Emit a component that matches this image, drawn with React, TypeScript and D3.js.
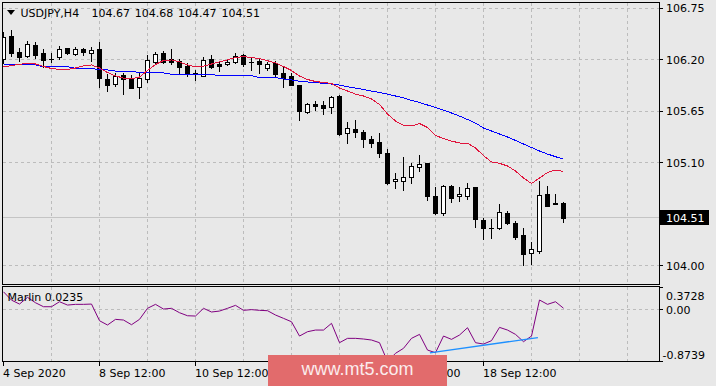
import React from "react";
import * as d3 from "d3";

// USDJPY H4 bars
const opens = [
  106.205, 106.454, 106.286, 106.241, 106.355, 106.273, 106.212, 106.226, 106.321, 106.265,
  106.31, 106.269, 106.31, 105.999, 105.944, 106.042, 106.002, 105.912, 105.991, 106.179,
  106.276, 106.205, 106.187, 106.134, 106.061, 106.032, 106.206, 106.15, 106.153, 106.179,
  106.246, 106.178, 106.187, 106.112, 106.162, 106.056, 106.027, 105.93, 105.645, 105.728,
  105.717, 105.699, 105.813, 105.423, 105.46, 105.426, 105.354, 105.322, 105.201, 104.905,
  104.908, 104.951, 105.051, 105.1, 104.745, 104.566, 104.851, 104.745, 104.748, 104.844,
  104.488, 104.406, 104.406, 104.56, 104.453, 104.328, 104.139, 104.16, 104.763, 104.667,
  104.67,
];
const highs = [
  106.497, 106.513, 106.326, 106.404, 106.387, 106.315, 106.269, 106.342, 106.331, 106.337,
  106.326, 106.337, 106.395, 106.048, 106.059, 106.064, 106.038, 106.056, 106.251, 106.288,
  106.294, 106.315, 106.212, 106.166, 106.086, 106.23, 106.246, 106.184, 106.201, 106.269,
  106.264, 106.216, 106.216, 106.179, 106.184, 106.126, 106.062, 105.931, 105.741, 105.762,
  105.757, 105.813, 105.822, 105.533, 105.557, 105.452, 105.389, 105.415, 105.244, 104.987,
  105.165, 105.094, 105.179, 105.101, 104.844, 104.862, 104.862, 104.838, 104.88, 104.845,
  104.506, 104.496, 104.659, 104.584, 104.481, 104.4, 104.256, 104.908, 104.851, 104.766,
  104.68,
];
const lows = [
  106.166, 106.241, 106.187, 106.226, 106.219, 106.126, 106.177, 106.209, 106.262, 106.248,
  106.256, 106.187, 105.909, 105.87, 105.92, 105.838, 105.895, 105.797, 105.963, 106.169,
  106.162, 106.155, 106.064, 106.027, 105.989, 106.025, 106.109, 106.083, 106.139, 106.166,
  106.137, 106.086, 106.062, 106.094, 106.027, 105.912, 105.93, 105.557, 105.635, 105.667,
  105.626, 105.635, 105.397, 105.308, 105.37, 105.271, 105.263, 105.165, 104.873, 104.827,
  104.809, 104.887, 105.015, 104.702, 104.549, 104.542, 104.684, 104.694, 104.713, 104.417,
  104.282, 104.293, 104.392, 104.442, 104.282, 104.007, 104.018, 104.139, 104.635, 104.655,
  104.47,
];
const closes = [
  106.44, 106.269, 106.226, 106.369, 106.256, 106.202, 106.209, 106.31, 106.273, 106.31,
  106.278, 106.305, 106.002, 105.927, 106.029, 105.997, 105.898, 106.002, 106.198, 106.262,
  106.177, 106.179, 106.12, 106.059, 106.043, 106.198, 106.123, 106.129, 106.177, 106.237,
  106.153, 106.171, 106.15, 106.153, 106.05, 106.005, 105.934, 105.656, 105.728, 105.708,
  105.688, 105.799, 105.41, 105.468, 105.432, 105.358, 105.308, 105.207, 104.88, 104.929,
  104.951, 105.065, 105.087, 104.745, 104.56, 104.851, 104.726, 104.763, 104.827, 104.496,
  104.406, 104.4, 104.574, 104.459, 104.31, 104.125, 104.175, 104.755, 104.638, 104.656,
  104.51,
];

// moving averages (red = fast, blue = slow)
const maFast = [
  106.123, 106.139, 106.152, 106.16, 106.155, 106.128, 106.107, 106.096, 106.096, 106.112,
  106.134, 106.145, 106.112, 106.064, 106.027, 106.005, 105.995, 106.016, 106.085, 106.15,
  106.192, 106.198, 106.177, 106.145, 106.123, 106.131, 106.155, 106.177, 106.2, 106.224,
  106.235, 106.224, 106.212, 106.19, 106.166, 106.128, 106.085, 106.027, 105.989, 105.968,
  105.957, 105.947, 105.898, 105.866, 105.834, 105.813, 105.781, 105.722, 105.621, 105.546,
  105.498, 105.493, 105.519, 105.476, 105.391, 105.359, 105.332, 105.311, 105.308, 105.257,
  105.177, 105.108, 105.094, 105.065, 105.012, 104.937, 104.878, 104.937, 104.996, 105.022,
  105.006,
];
const maSlow = [
  106.145, 106.145, 106.145, 106.145, 106.145, 106.126, 106.126, 106.126, 106.126, 106.109,
  106.109, 106.109, 106.091, 106.091, 106.08, 106.08, 106.08, 106.059, 106.059, 106.059,
  106.059, 106.045, 106.045, 106.045, 106.045, 106.045, 106.045, 106.029, 106.029, 106.029,
  106.029, 106.029, 106.011, 106.011, 106.011, 105.995, 105.984, 105.97, 105.963, 105.955,
  105.949, 105.941, 105.93, 105.912, 105.898, 105.882, 105.866, 105.85, 105.834, 105.813,
  105.792, 105.767, 105.744, 105.717, 105.69, 105.663, 105.631, 105.599, 105.562, 105.524,
  105.471, 105.439, 105.407, 105.375, 105.338, 105.3, 105.263, 105.225, 105.193, 105.165,
  105.137,
];

const marlin = [
  0.3, 0.16, 0.094, 0.207, 0.116, 0.049, 0.049, 0.133, 0.077, 0.089,
  0.089, 0.094, -0.187, -0.259, -0.164, -0.175, -0.254, -0.164, 0.022, 0.089,
  0.01, 0.022, -0.052, -0.103, -0.108, 0.022, -0.04, -0.024, 0.022, 0.072,
  -0.012, 0.0, -0.012, -0.018, -0.091, -0.147, -0.204, -0.445, -0.372, -0.344,
  -0.344, -0.231, -0.557, -0.484, -0.484, -0.495, -0.512, -0.557, -0.8739, -0.736,
  -0.652, -0.484, -0.417, -0.681, -0.726, -0.445, -0.501, -0.428, -0.305, -0.557,
  -0.58, -0.523, -0.299, -0.344, -0.417, -0.54, -0.445, 0.162, 0.089, 0.133,
  0.0235,
];
// divergence trendline on the indicator: [bar index, value]
const divergence = [
  [53.3, -0.73],
  [66.8, -0.47],
];

const priceTicks = [106.75, 106.2, 105.65, 105.1, 104.0];
const marlinTicks = [0.3728, 0.0, -0.8739];
// 14 Sep 12:00 sits fully under the watermark in the reference
const timeLabels = [
  { bar: 0, text: "4 Sep 2020" },
  { bar: 12, text: "8 Sep 12:00" },
  { bar: 24, text: "10 Sep 12:00" },
  { bar: 48, text: "16 Sep 12:00" },
  { bar: 60, text: "18 Sep 12:00" },
];

const W = 716;
const H = 386;
const BG = "#e8e8e8";
const GRID = "#bcbcbc";
const FONT = "'DejaVu Sans', Verdana, sans-serif";

const snap = (v: number) => Math.floor(v) + 0.5;

export default function App() {
  const n = closes.length;
  const x = d3.scaleLinear().domain([0, n - 1]).range([3.5, 3.5 + 8 * (n - 1)]);
  const y = d3.scaleLinear().domain([104.0, 106.75]).range([265.7, 8.3]);
  const ym = d3.scaleLinear().domain([-0.8739, 0.3728]).range([361.5, 287.5]);

  const idx = d3.range(n);
  const maLine = (arr: number[]) =>
    d3.line<number>().x((i) => x(i)).y((i) => y(arr[i]))(idx) || "";
  const marlinPath =
    d3.line<number>().x((i) => x(i)).y((i) => ym(marlin[i]))(idx) || "";
  const divPath =
    d3.line<number[]>().x((d) => x(d[0])).y((d) => ym(d[1]))(divergence) || "";

  const vGrid = d3.range(6, 80, 6).map((k) => x(k));
  const last = closes[n - 1];

  return (
    <svg
      width={W}
      height={H}
      style={{ position: "absolute", left: 0, top: 0, background: BG }}
      fontFamily={FONT}
      fontSize={11}
    >
      <defs>
        <clipPath id="mainClip">
          <rect x={3} y={3} width={656} height={281} />
        </clipPath>
        <clipPath id="subClip">
          <rect x={3} y={287} width={656} height={74} />
        </clipPath>
      </defs>
      <rect x={0} y={0} width={W} height={H} fill={BG} />

      {/* grid */}
      <g stroke={GRID} strokeDasharray="3,3" shapeRendering="crispEdges">
        {vGrid.map((gx, i) => (
          <g key={i}>
            <line x1={gx} x2={gx} y1={3} y2={284} />
            <line x1={gx} x2={gx} y1={287} y2={361} />
          </g>
        ))}
        {priceTicks.map((p) => (
          <line key={p} x1={3} x2={659} y1={snap(y(p))} y2={snap(y(p))} />
        ))}
        <line x1={3} x2={659} y1={snap(ym(0))} y2={snap(ym(0))} />
      </g>
      {/* last price line */}
      <line x1={3} x2={659} y1={snap(y(last))} y2={snap(y(last))} stroke="#c4c4c4" shapeRendering="crispEdges" />

      {/* candles */}
      <g clipPath="url(#mainClip)" shapeRendering="crispEdges">
        {idx.map((i) => {
          const cx = x(i);
          const o = opens[i];
          const c = closes[i];
          const top = Math.round(y(Math.max(o, c)));
          const bot = Math.round(y(Math.min(o, c)));
          const up = c >= o;
          return (
            <g key={i}>
              <line x1={cx} x2={cx} y1={Math.round(y(highs[i]))} y2={Math.round(y(lows[i])) + 1} stroke="#000" />
              {bot - top < 1 ? (
                <line x1={cx - 2.5} x2={cx + 2.5} y1={top + 0.5} y2={top + 0.5} stroke="#000" />
              ) : (
                <rect x={cx - 2} y={top + 0.5} width={4} height={bot - top} fill={up ? "#fff" : "#000"} stroke="#000" />
              )}
            </g>
          );
        })}
        <path d={maLine(maSlow)} fill="none" stroke="#0000ff" strokeWidth={1} />
        <path d={maLine(maFast)} fill="none" stroke="#e0143c" strokeWidth={1} />
      </g>

      {/* indicator */}
      <g clipPath="url(#subClip)">
        <path d={marlinPath} fill="none" stroke="#800080" strokeWidth={1} />
        <path d={divPath} fill="none" stroke="#1e90ff" strokeWidth={1.3} />
      </g>

      {/* frames */}
      <g fill="none" stroke="#000" shapeRendering="crispEdges">
        <rect x={2.5} y={2.5} width={657} height={282} />
        <rect x={2.5} y={286.5} width={657} height={75} />
      </g>

      {/* header */}
      <path d="M7,10 L15,10 L11,15 Z" fill="#000" />
      <text x={20.5} y={17} fill="#000">USDJPY,H4</text>
      {[opens[n - 1], highs[n - 1], lows[n - 1], closes[n - 1]].map((v, i) => (
        <text key={i} x={91.5 + i * 43.3} y={17} fill="#000">
          {v.toFixed(2)}
        </text>
      ))}
      <text x={7.5} y={300.5} fill="#000">{`Marlin ${marlin[n - 1].toFixed(4)}`}</text>

      {/* price axis */}
      <g shapeRendering="crispEdges" stroke="#000">
        {priceTicks.map((p) => (
          <line key={p} x1={659} x2={663} y1={snap(y(p))} y2={snap(y(p))} />
        ))}
        {marlinTicks.map((v) => (
          <line key={v} x1={659} x2={663} y1={snap(ym(v))} y2={snap(ym(v))} />
        ))}
      </g>
      {priceTicks.map((p) => (
        <text key={p} x={666} y={y(p) + 4} fill="#000">
          {p.toFixed(2)}
        </text>
      ))}
      <rect x={660} y={210} width={49} height={15} fill="#000" />
      <text x={666} y={y(last) + 4} fill="#fff">{last.toFixed(2)}</text>
      <text x={666} y={299.5} fill="#000">{marlinTicks[0].toFixed(4)}</text>
      <text x={666} y={ym(0) + 4.5} fill="#000">{marlinTicks[1].toFixed(2)}</text>
      <text x={662.5} y={358.5} fill="#000">{marlinTicks[2].toFixed(4)}</text>

      {/* time axis */}
      {timeLabels.map((t) => (
        <g key={t.bar}>
          <line x1={x(t.bar)} x2={x(t.bar)} y1={362} y2={366} stroke="#000" shapeRendering="crispEdges" />
          <text x={x(t.bar) - 0.5} y={377} fill="#000">{t.text}</text>
        </g>
      ))}

      {/* watermark */}
      <rect x={268} y={355} width={179} height={32} fill="#e26b6c" />
      <text x={357.5} y={375} fill="#fbecec" fontFamily="'Liberation Sans', Arial, sans-serif" fontSize={18} textAnchor="middle">
        www.mt5.com
      </text>
    </svg>
  );
}
